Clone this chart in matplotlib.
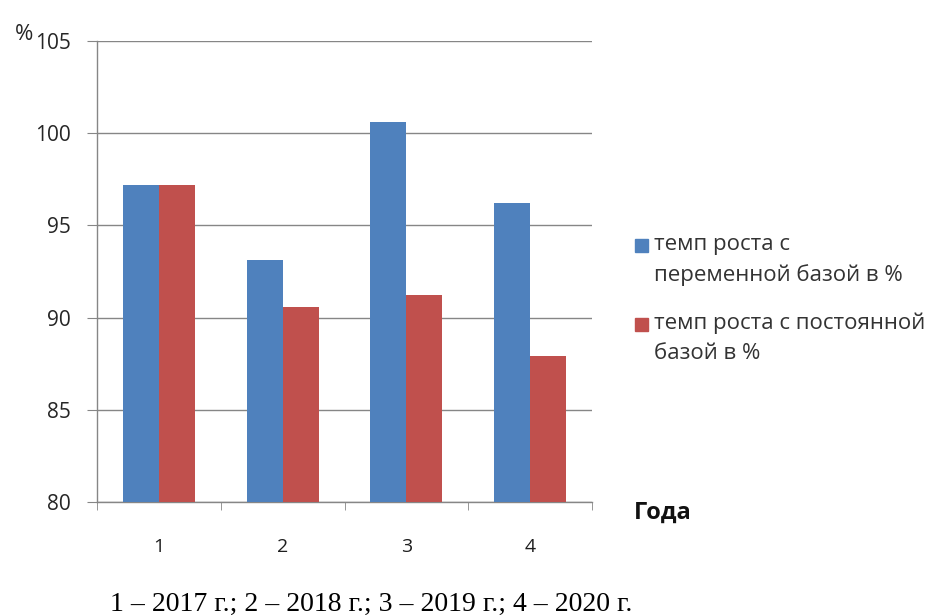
import matplotlib.pyplot as plt
from matplotlib.patches import Rectangle
import numpy as np

# data
categories = ["1", "2", "3", "4"]
chain_rate = [97.2, 93.1, 100.6, 96.2]   # темп роста с переменной базой
base_rate = [97.2, 90.6, 91.2, 87.9]     # темп роста с постоянной базой
series_labels = ["темп роста с\nпеременной базой в %",
                 "темп роста с постоянной\nбазой в %"]
y_ticks = [80, 85, 90, 95, 100, 105]
caption = "1 – 2017 г.; 2 – 2018 г.; 3 – 2019 г.; 4 – 2020 г."

BLUE = "#4F81BD"
RED = "#C0504D"
GRID = "#868686"

plt.rcParams['font.family'] = ['Open Sans', 'DejaVu Sans']

fig = plt.figure(figsize=(9.36, 6.15), dpi=100)
ax = fig.add_axes([97 / 936, 1 - 502 / 615, (592 - 97) / 936, (502 - 41) / 615])

x = np.arange(len(categories))
w = 0.29
ax.bar(x - w / 2, chain_rate, width=w, color=BLUE, zorder=3)
ax.bar(x + w / 2, base_rate, width=w, color=RED, zorder=3)

ax.set_ylim(80, 105)
ax.set_xlim(-0.5, len(categories) - 0.5)
ax.set_yticks(y_ticks)
ax.yaxis.grid(True, color=GRID, linewidth=1.0, zorder=0)
ax.set_axisbelow(True)

for side in ["top", "right"]:
    ax.spines[side].set_visible(False)
for side in ["left", "bottom"]:
    ax.spines[side].set_color(GRID)
    ax.spines[side].set_linewidth(1.0)

ax.set_xticks(x)
ax.set_xticklabels(categories)
ax.set_xticks(np.arange(-0.5, len(categories)), minor=True)
ax.tick_params(axis="x", which="major", length=0, pad=26, labelsize=14, labelcolor="#1e1e1e")
ax.tick_params(axis="x", which="minor", length=5.5, color=GRID, direction="out")
ax.tick_params(axis="y", length=7, color=GRID, direction="out", pad=12,
               labelsize=15, labelcolor="#262626")

# axis captions
fig.text(24 / 936, 1 - 34 / 615, "%", fontsize=16, color="#262626", ha="center", va="center")
fig.text(634 / 936, 1 - 513 / 615, "Года", fontsize=17, fontweight="bold",
         color="#111111", ha="left", va="center")

# legend drawn by hand so the squares sit next to the first line of text
colors = [BLUE, RED]
first_line_y = [245, 324]
for lab, col, yy in zip(series_labels, colors, first_line_y):
    fig.add_artist(Rectangle((635 / 936, 1 - (yy + 6.5) / 615), 13 / 936, 13 / 615,
                             transform=fig.transFigure, color=col))
    fig.text(654 / 936, 1 - (yy - 11) / 615, lab, fontsize=16, color="#333333",
             ha="left", va="top", linespacing=1.55)

fig.text(110 / 936, 1 - 604 / 615, caption, fontsize=20, family="Liberation Serif",
         color="black", ha="left", va="center")

fig.savefig("out.png", dpi=100)
